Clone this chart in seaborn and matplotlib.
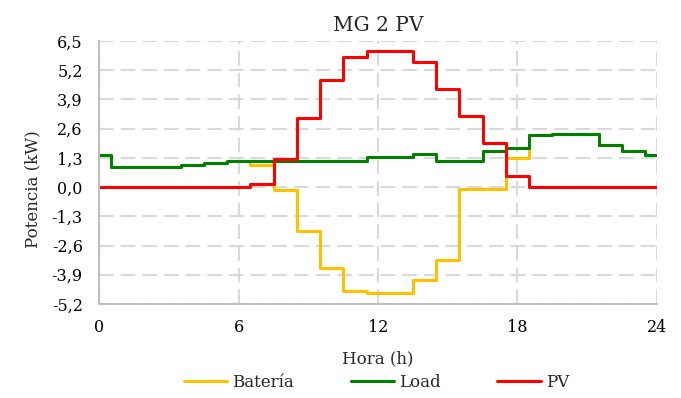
import numpy as np
import pandas as pd
import matplotlib
matplotlib.use("Agg")
import matplotlib.pyplot as plt
import seaborn as sns

# ---- data (hourly values, hours 0..24) ----
hours = list(range(25))
bateria = [1.44, 0.90, 0.90, 0.90, 0.98, 1.08, 1.17, 1.00, -0.12, -1.96, -3.62, -4.60,
           -4.72, -4.72, -4.13, -3.24, -0.09, -0.09, 1.30, 2.30, 2.36, 2.36, 1.87, 1.62, 1.42]
load = [1.44, 0.90, 0.90, 0.90, 0.98, 1.08, 1.17, 1.17, 1.17, 1.17, 1.17, 1.17,
        1.35, 1.35, 1.48, 1.17, 1.17, 1.60, 1.75, 2.32, 2.36, 2.36, 1.87, 1.62, 1.42]
pv = [0, 0, 0, 0, 0, 0, 0, 0.13, 1.26, 3.07, 4.78, 5.79,
      6.06, 6.06, 5.56, 4.36, 3.16, 1.94, 0.50, 0, 0, 0, 0, 0, 0]
series_names = ["Batería", "Load", "PV"]
series_colors = ["#FFC000", "#008000", "#FF0000"]
x_ticks = [0, 6, 12, 18, 24]
y_ticks = [6.5, 5.2, 3.9, 2.6, 1.3, 0.0, -1.3, -2.6, -3.9, -5.2]
y_tick_labels = ["6,5", "5,2", "3,9", "2,6", "1,3", "0,0", "-1,3", "-2,6", "-3,9", "-5,2"]
title = "MG 2 PV"
xlabel = "Hora (h)"
ylabel = "Potencia (kW)"

df = pd.concat([
    pd.DataFrame({"Hora": hours, "Potencia": vals, "Serie": name})
    for name, vals in zip(series_names, [bateria, load, pv])
], ignore_index=True)

sns.set_style("white")
plt.rcParams["font.family"] = ["DejaVu Serif"]
plt.rcParams["font.size"] = 12

fig = plt.figure(figsize=(6.81, 3.98), dpi=100)
ax = fig.add_axes([0.1461, 0.2362, 0.8183, 0.6608])

sns.lineplot(data=df, x="Hora", y="Potencia", hue="Serie", hue_order=series_names,
             palette=series_colors, estimator=None, drawstyle="steps-mid",
             linewidth=2.2, ax=ax, legend=True)

ax.set_xlim(0, 24)
ax.set_ylim(-5.2, 6.5)
ax.set_xticks(x_ticks)
ax.set_xticklabels([str(t) for t in x_ticks])
ax.set_yticks(y_ticks)
ax.set_yticklabels(y_tick_labels)
ax.tick_params(axis="both", length=0, labelsize=11.5, colors="black")
ax.tick_params(axis="x", pad=11)
ax.tick_params(axis="y", pad=12)

ax.grid(True, color="#D9D9D9", linestyle=(0, (7, 3.4)), linewidth=1.5)
ax.set_axisbelow(True)
for s in ["top", "right"]:
    ax.spines[s].set_visible(False)
for s in ["left", "bottom"]:
    ax.spines[s].set_color("#BFBFBF")
    ax.spines[s].set_linewidth(1.5)

ax.set_title(title, fontsize=14.5, pad=7)
ax.set_xlabel(xlabel, fontsize=12)
ax.set_ylabel(ylabel, fontsize=12)
ax.xaxis.set_label_coords(0.5, -0.175)
ax.yaxis.set_label_coords(-0.105, 0.437)

handles, labels = ax.get_legend_handles_labels()
ax.legend(handles, labels, loc="center", bbox_to_anchor=(0.497, -0.297),
          ncol=3, frameon=False, fontsize=12, handlelength=2.6,
          columnspacing=3.4, handletextpad=0.3, borderaxespad=0, borderpad=0)

fig.savefig("out.png", dpi=100)
